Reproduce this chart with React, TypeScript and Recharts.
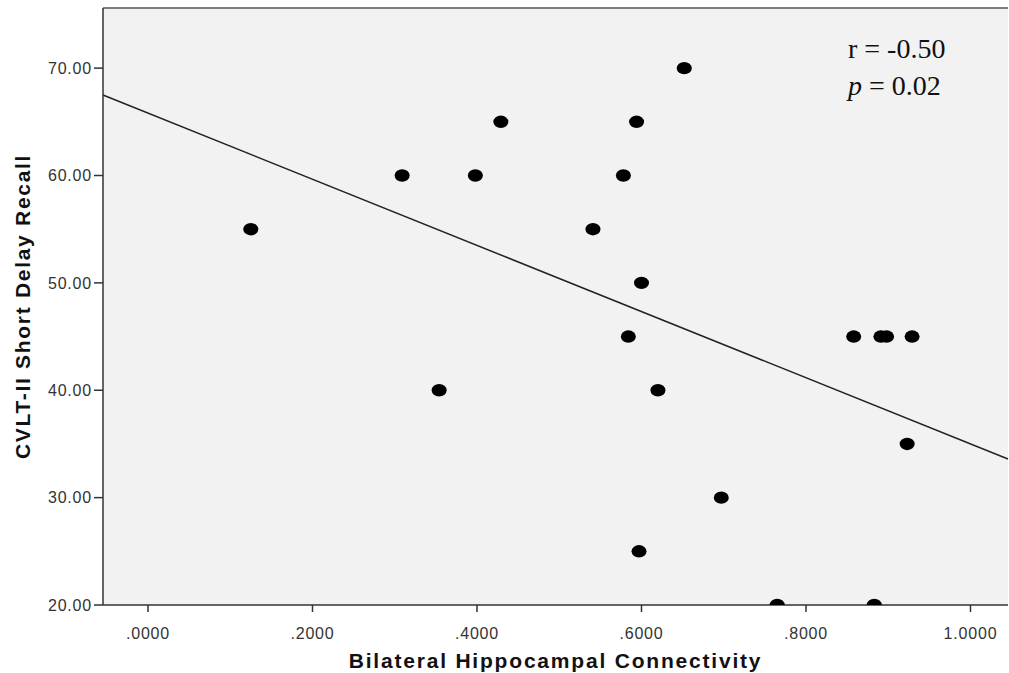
import { ScatterChart, Scatter, XAxis, YAxis, CartesianGrid, ReferenceLine } from 'recharts';

// connectivity (x) vs CVLT-II short delay recall (y)
const connectivity = [
  0.125, 0.309, 0.398, 0.429, 0.354, 0.541, 0.578, 0.594, 0.600, 0.584,
  0.620, 0.652, 0.697, 0.597, 0.765, 0.883, 0.858, 0.891, 0.898, 0.929, 0.923,
];
const recall = [
  55, 60, 60, 65, 40, 55, 60, 65, 50, 45,
  40, 70, 30, 25, 20, 20, 45, 45, 45, 45, 35,
];

// fit line end points (at the plot edges)
const fitX = [-0.0547, 1.0456];
const fitY = [67.5, 33.6];

const xTicks = [0, 0.2, 0.4, 0.6, 0.8, 1.0];
const yTicks = [20, 30, 40, 50, 60, 70];

const X_MIN = -0.0547;
const X_MAX = 1.0456;
const Y_MIN = 20;
const Y_MAX = 75.6;

const points = connectivity.map((x, i) => ({ x, y: recall[i] }));
const fitSegment = fitX.map((x, i) => ({ x, y: fitY[i] }));

const Dot = (props: any) => {
  const { cx, cy } = props;
  if (cx == null || cy == null) return null;
  return <ellipse cx={cx} cy={cy} rx={7.5} ry={6.2} fill="#000" />;
};

const tickStyle = {
  fontFamily: 'Liberation Sans, Arial, sans-serif',
  fontSize: 16,
  letterSpacing: 0.8,
  fill: '#333',
};

const App = () => {
  return (
    <div style={{ position: 'absolute', left: 0, top: 0, width: 1009, height: 673, background: '#fff' }}>
      <ScatterChart width={1009} height={673} margin={{ top: 8, right: 1, left: 0, bottom: 0 }}>
        <CartesianGrid fill="#f2f2f2" horizontal={false} vertical={false} />
        <XAxis
          type="number"
          dataKey="x"
          domain={[X_MIN, X_MAX]}
          ticks={xTicks}
          allowDataOverflow
          height={68}
          tickFormatter={(v: number) => v.toFixed(4).replace(/^0/, '')}
          tick={tickStyle}
          tickSize={7}
          tickMargin={16}
          stroke="#333"
          strokeWidth={1.5}
          label={{
            value: 'Bilateral Hippocampal Connectivity',
            position: 'insideBottom',
            offset: 5,
            style: {
              fontFamily: 'Liberation Sans, Arial, sans-serif',
              fontWeight: 'bold',
              fontSize: 21,
              letterSpacing: 1.8,
              fill: '#111',
            },
          }}
        />
        <YAxis
          type="number"
          dataKey="y"
          domain={[Y_MIN, Y_MAX]}
          ticks={yTicks}
          allowDataOverflow
          width={103}
          tickFormatter={(v: number) => v.toFixed(2)}
          tick={tickStyle}
          tickSize={9}
          tickMargin={2}
          stroke="#333"
          strokeWidth={1.5}
          label={{
            value: 'CVLT-II Short Delay Recall',
            angle: -90,
            position: 'insideLeft',
            offset: 23,
            style: {
              textAnchor: 'middle',
              fontFamily: 'Liberation Sans, Arial, sans-serif',
              fontWeight: 'bold',
              fontSize: 21,
              letterSpacing: 1.7,
              fill: '#111',
            },
          }}
        />
        <ReferenceLine y={Y_MAX} stroke="#555" strokeWidth={1.5} ifOverflow="extendDomain" />
        <ReferenceLine segment={fitSegment} stroke="#222" strokeWidth={1.5} />
        <Scatter data={points} shape={Dot} isAnimationActive={false} />
      </ScatterChart>
      <div
        style={{
          position: 'absolute',
          left: 848,
          top: 30,
          fontFamily: 'Liberation Serif, Times New Roman, serif',
          fontSize: 28,
          lineHeight: '37px',
          color: '#111',
        }}
      >
        <div>r = -0.50</div>
        <div>
          <i>p</i> = 0.02
        </div>
      </div>
    </div>
  );
};

export default App;
